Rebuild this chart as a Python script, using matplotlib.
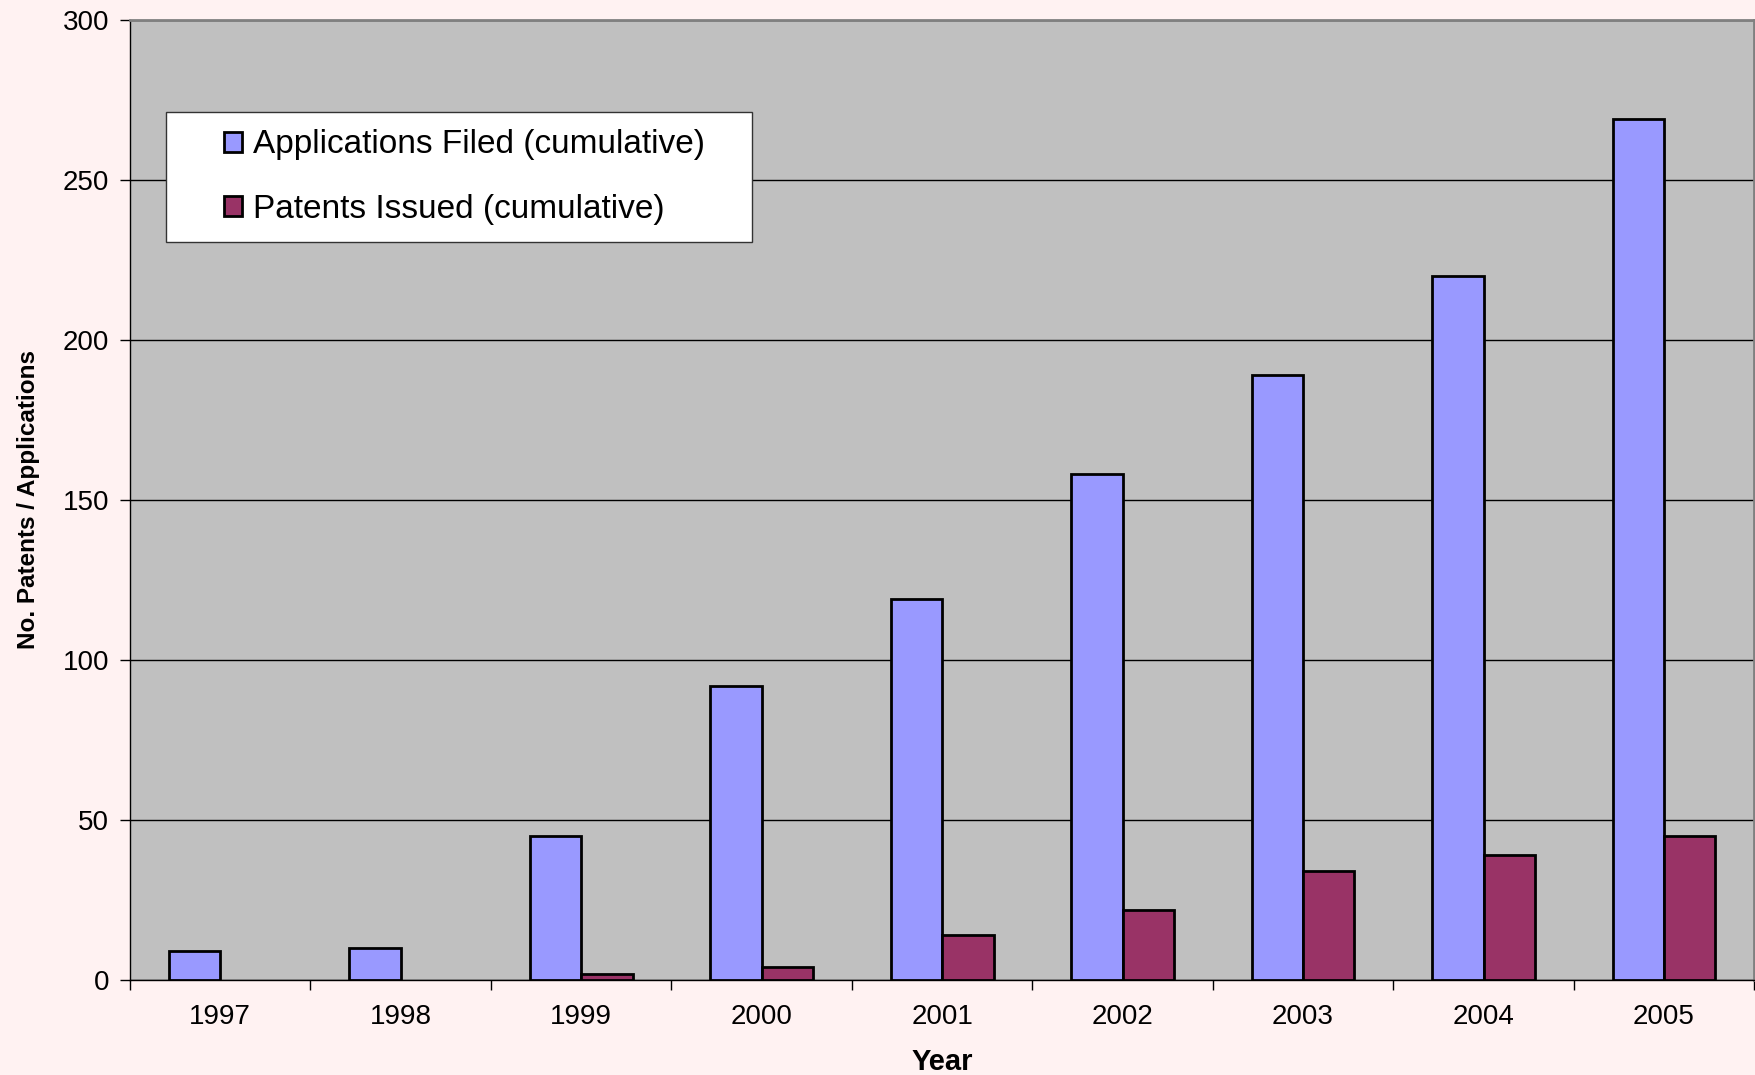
import matplotlib.pyplot as plt
import numpy as np
from matplotlib.patches import Rectangle
from matplotlib.ticker import FixedLocator, NullFormatter

plt.rcParams['font.family'] = ['Liberation Sans', 'DejaVu Sans']

anos = ['1997', '1998', '1999', '2000', '2001', '2002', '2003', '2004', '2005']
pedidos = [9, 10, 45, 92, 119, 158, 189, 220, 269]
patentes = [0, 0, 2, 4, 14, 22, 34, 39, 45]

fig = plt.figure(figsize=(17.56, 10.75), dpi=100, facecolor='#FFF2F2')
ax = fig.add_axes([0.074, 0.0884, 0.925, 0.893])
ax.set_facecolor('#C0C0C0')

x = np.arange(len(anos))
larg = 0.285
# barras de altura zero não mostram contorno
bordas_ped = [2 if v > 0 else 0 for v in pedidos]
bordas_pat = [2 if v > 0 else 0 for v in patentes]
ax.bar(x - larg / 2, pedidos, larg, color='#9999FF', edgecolor='black',
       linewidth=bordas_ped, label='Applications Filed (cumulative)', zorder=3)
ax.bar(x + larg / 2, patentes, larg, color='#993366', edgecolor='black',
       linewidth=bordas_pat, label='Patents Issued (cumulative)', zorder=3)

ax.set_xlim(-0.5, len(anos) - 0.5)
ax.set_ylim(0, 300)
ax.set_yticks(range(0, 301, 50))
ax.yaxis.grid(True, color='black', linewidth=1, zorder=1)
ax.set_axisbelow(True)

ax.set_xticks(x)
ax.set_xticklabels(anos)
ax.xaxis.set_minor_locator(FixedLocator(np.arange(-0.5, len(anos), 1)))
ax.xaxis.set_minor_formatter(NullFormatter())
ax.tick_params(axis='x', which='major', length=0, pad=17, labelsize=20)
ax.tick_params(axis='x', which='minor', length=7, width=1, direction='out')
ax.tick_params(axis='y', length=7, width=1, direction='out', pad=8, labelsize=20)

for lado in ['top', 'right']:
    ax.spines[lado].set_color('#808080')
    ax.spines[lado].set_linewidth(2)
for lado in ['left', 'bottom']:
    ax.spines[lado].set_color('black')
    ax.spines[lado].set_linewidth(1)

ax.set_xlabel('Year', fontsize=21, fontweight='bold', labelpad=13)
ax.set_ylabel('No. Patents / Applications', fontsize=17.5, fontweight='bold', labelpad=16)

# caixa da legenda desenhada à parte
caixa = Rectangle((0.0222, 0.769), 0.361, 0.135, transform=ax.transAxes,
                  facecolor='white', edgecolor='#333333', linewidth=1, zorder=4)
ax.add_patch(caixa)

leg = ax.legend(loc='upper left', bbox_to_anchor=(0.0579, 0.886), fontsize=24,
                frameon=False, handlelength=0.55, handleheight=0.55,
                handletextpad=0.33, labelspacing=1.0, borderpad=0,
                borderaxespad=0)
for h in leg.legend_handles:
    h.set_edgecolor('black')
    h.set_linewidth(2)
leg.set_zorder(5)

plt.savefig('out.png', dpi=100, facecolor=fig.get_facecolor())
